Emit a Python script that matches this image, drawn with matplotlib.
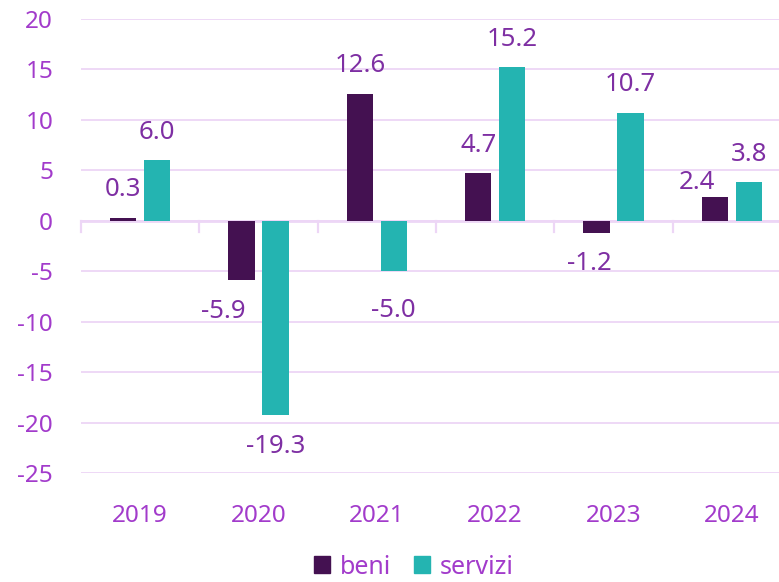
import numpy as np
import matplotlib
matplotlib.use("Agg")
import matplotlib.pyplot as plt
from matplotlib.patches import Patch

plt.rcParams['font.family'] = ['Noto Sans', 'DejaVu Sans']
plt.rcParams['axes.unicode_minus'] = False

years = ['2019', '2020', '2021', '2022', '2023', '2024']
beni = [0.3, -5.9, 12.6, 4.7, -1.2, 2.4]
servizi = [6.0, -19.3, -5.0, 15.2, 10.7, 3.8]

beni_color = '#441151'
servizi_color = '#24B4B1'
tick_color = '#A23BCB'
label_color = '#7E2FA3'
grid_color = '#EDD6F6'

# label nudges in pixels (dx, dy), like the hand-placed labels of the original
nudge = {('beni', 1): (-18, 0), ('beni', 4): (-7, 0), ('beni', 5): (-18, -14),
         ('servizi', 2): (0, -8)}

fig = plt.figure(figsize=(7.79, 5.82), dpi=100)
ax = fig.add_axes([81 / 779, 1 - 473 / 582, 710 / 779, (473 - 19) / 582])

x = np.arange(len(years))
w = 0.224
off = 0.143
ax.bar(x - off, beni, w, color=beni_color, zorder=3, label='beni')
ax.bar(x + off, servizi, w, color=servizi_color, zorder=3, label='servizi')

for name, xs, vals in [('beni', x - off, beni), ('servizi', x + off, servizi)]:
    for i, (xi, v) in enumerate(zip(xs, vals)):
        dy = 28 if v >= 0 else -31
        ndx, ndy = nudge.get((name, i), (0, 0))
        ax.annotate(f'{v:.1f}', (xi, v), xytext=(ndx * 0.72, (dy + ndy) * 0.72),
                    textcoords='offset points', ha='center', va='center',
                    fontsize=18.5, color=label_color, zorder=4)

ax.set_xlim(-0.5, len(years) - 0.5)
ax.set_ylim(-25, 20)
ax.set_yticks(range(-25, 21, 5))
ax.yaxis.grid(True, color=grid_color, linewidth=1.3, zorder=0)
ax.set_axisbelow(True)

# zero line with category boundary ticks
ax.axhline(0, color=grid_color, linewidth=2, zorder=2)
for b in np.arange(-0.5, len(years), 1.0):
    ax.plot([b, b], [0, -1.1], color=grid_color, linewidth=1.6, zorder=2, clip_on=False)

ax.set_xticks(x)
ax.set_xticklabels(years)
ax.tick_params(axis='both', length=0, labelsize=17.5, colors=tick_color)
ax.tick_params(axis='x', pad=22)
ax.tick_params(axis='y', pad=20)
for s in ax.spines.values():
    s.set_visible(False)

handles = [Patch(color=beni_color, label='beni'), Patch(color=servizi_color, label='servizi')]
leg = fig.legend(handles=handles, loc='center', bbox_to_anchor=(414 / 779, 1 - 567 / 582), ncol=2,
                 frameon=False, fontsize=18, handlelength=0.65, handleheight=0.65,
                 handletextpad=0.4, columnspacing=0.9, borderpad=0.1)
for t in leg.get_texts():
    t.set_color(tick_color)

fig.savefig('out.png', dpi=100)
